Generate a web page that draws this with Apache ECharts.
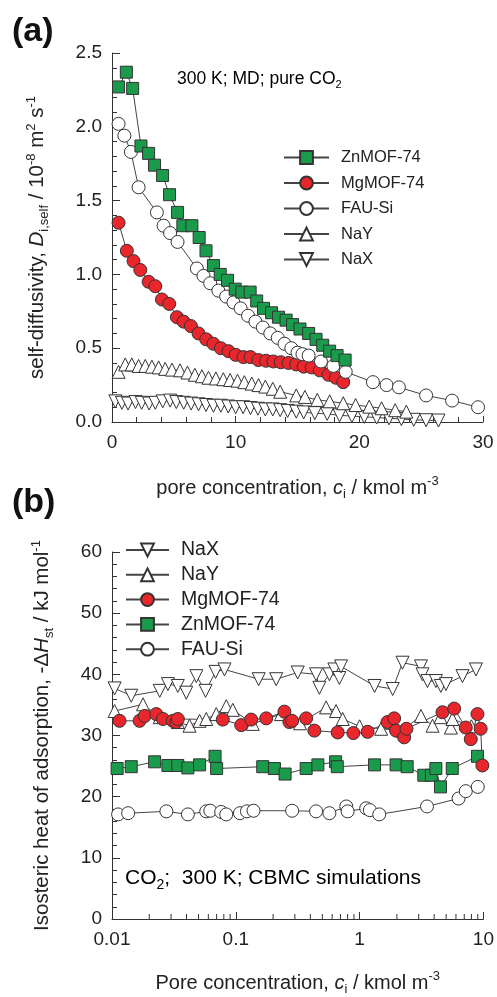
<!DOCTYPE html>
<html><head><meta charset="utf-8">
<script src="https://cdn.jsdelivr.net/npm/echarts@6/dist/echarts.min.js"></script>
<style>html,body{margin:0;padding:0;background:#fff}#c{width:497px;height:997px}</style>
</head><body><div id="c"></div>
<script>
// ---------- Panel (a): self-diffusivity vs pore concentration ----------
const aZnMOF = [[0.53,2.27],[1.16,2.37],[1.67,2.26],[2.34,1.87],[2.96,1.82],[3.44,1.74],[4.09,1.67],[4.65,1.54],[5.3,1.42],[5.73,1.33],[6.46,1.33],[7.05,1.25],[7.6,1.16],[8.2,1.06],[8.75,1.0],[9.34,0.96],[9.96,0.90],[10.5,0.88],[11.17,0.88],[11.7,0.82],[12.25,0.77],[12.9,0.74],[13.46,0.71],[14.08,0.69],[14.6,0.66],[15.2,0.63],[15.9,0.60],[16.5,0.56],[17.04,0.52],[17.6,0.48],[18.2,0.45],[18.85,0.42]];
const aMgMOF = [[0.53,1.35],[1.2,1.16],[1.74,1.09],[2.29,1.03],[2.96,0.95],[3.5,0.92],[4.04,0.83],[4.63,0.80],[5.25,0.71],[5.79,0.68],[6.38,0.65],[7.0,0.60],[7.62,0.56],[8.2,0.53],[8.8,0.50],[9.42,0.48],[10.0,0.455],[10.63,0.44],[11.2,0.44],[11.84,0.42],[12.46,0.415],[13.05,0.41],[13.65,0.405],[14.27,0.40],[14.9,0.39],[15.5,0.375],[16.15,0.37],[16.8,0.35],[17.5,0.32],[18.1,0.30],[18.7,0.27]];
const aFAUSi = [[0.53,2.02],[1.0,1.94],[1.53,1.83],[2.15,1.59],[3.63,1.42],[4.17,1.33],[4.7,1.28],[5.3,1.22],[6.86,1.04],[7.4,0.99],[7.94,0.94],[8.6,0.89],[9.23,0.85],[9.82,0.81],[10.4,0.77],[11.0,0.72],[11.6,0.68],[12.2,0.64],[12.8,0.60],[13.4,0.57],[13.95,0.53],[14.5,0.50],[15.0,0.47],[15.4,0.46],[15.9,0.45],[16.9,0.41],[17.9,0.38],[18.9,0.34],[21.1,0.27],[22.2,0.25],[23.2,0.235],[25.4,0.18],[27.5,0.145],[29.6,0.10]];
const aNaY = [[0.53,0.34],[1.07,0.39],[1.6,0.39],[2.15,0.38],[2.69,0.38],[3.23,0.375],[3.77,0.37],[4.3,0.36],[4.85,0.355],[5.5,0.35],[6.1,0.335],[6.7,0.32],[7.27,0.31],[7.8,0.30],[8.4,0.295],[9.0,0.29],[9.55,0.285],[10.15,0.28],[10.7,0.27],[11.3,0.26],[11.85,0.25],[12.4,0.24],[13.0,0.225],[13.6,0.205],[14.9,0.18],[15.6,0.17],[16.6,0.15],[17.6,0.14],[18.7,0.127],[19.7,0.115],[20.8,0.104],[21.8,0.093],[22.9,0.08],[23.8,0.07]];
const aNaX = [[0.27,0.14],[0.8,0.13],[1.3,0.125],[1.9,0.135],[2.4,0.13],[3.0,0.125],[3.5,0.13],[4.1,0.14],[4.7,0.145],[5.2,0.135],[5.8,0.13],[6.4,0.125],[7.0,0.12],[7.6,0.115],[8.2,0.11],[8.8,0.11],[9.4,0.105],[10.0,0.10],[10.6,0.10],[11.2,0.095],[11.8,0.09],[12.4,0.085],[13.0,0.085],[13.6,0.08],[14.2,0.075],[14.9,0.07],[15.5,0.065],[16.4,0.06],[17.4,0.055],[18.4,0.045],[19.4,0.04],[20.4,0.035],[21.4,0.03],[22.4,0.025],[23.4,0.02],[24.4,0.015],[25.4,0.012],[26.4,0.01]];
const aXLabels = ['0','10','20','30'];
const aYLabels = ['0.0','0.5','1.0','1.5','2.0','2.5'];

// ---------- Panel (b): isosteric heat vs pore concentration ----------
const bNaX = [[0.0105,37.7],[0.0143,36.5],[0.0243,37.3],[0.0283,38.4],[0.034,38.1],[0.0398,37.0],[0.048,39.7],[0.057,37.3],[0.0686,40.4],[0.081,40.8],[0.153,39.2],[0.212,39.2],[0.316,40.3],[0.445,40.0],[0.473,37.8],[0.57,40.0],[0.625,40.8],[0.686,39.4],[0.708,41.3],[1.32,38.1],[1.85,37.6],[2.22,41.9],[3.13,41.3],[3.22,40.0],[3.53,38.9],[4.13,38.9],[4.53,38.1],[4.98,38.4],[6.77,39.7],[8.7,40.8]];
const bNaY = [[0.0105,34.0],[0.0178,35.1],[0.0243,33.0],[0.034,32.2],[0.0423,31.6],[0.051,32.4],[0.0577,32.7],[0.0695,33.5],[0.0837,34.8],[0.0946,34.2],[0.137,31.9],[0.232,33.5],[0.33,32.0],[0.536,34.6],[0.645,34.0],[0.73,32.7],[1.0,31.5],[1.49,31.1],[2.2,30.8],[3.13,33.2],[3.88,31.6],[4.5,33.0],[5.46,31.3],[5.62,32.7],[8.0,31.5]];
const bMgMOF = [[0.0115,32.4],[0.0167,32.4],[0.0184,33.2],[0.0228,33.5],[0.0258,32.7],[0.031,32.4],[0.033,32.2],[0.034,32.7],[0.0785,32.6],[0.1106,31.7],[0.133,32.6],[0.176,32.8],[0.247,33.9],[0.271,32.2],[0.285,32.4],[0.37,32.8],[0.431,30.8],[0.665,30.5],[0.89,30.4],[1.16,30.6],[1.68,32.2],[1.9,32.8],[1.97,30.8],[2.29,29.7],[2.39,31.1],[4.67,33.8],[5.8,34.4],[7.2,31.3],[7.9,29.4],[8.95,33.5],[9.5,31.1],[9.8,25.1]];
const bZnMOF = [[0.011,24.6],[0.0143,24.9],[0.0221,25.7],[0.0283,25.1],[0.034,25.1],[0.041,24.7],[0.051,25.2],[0.068,26.6],[0.07,24.6],[0.165,24.9],[0.205,24.6],[0.25,23.7],[0.37,24.6],[0.46,25.2],[0.64,25.7],[0.66,24.9],[1.32,25.2],[1.97,25.2],[2.42,24.9],[3.3,23.5],[3.8,23.5],[4.13,24.6],[4.5,21.6],[5.6,24.6],[8.95,26.6]];
const bFAUSi = [[0.0112,17.1],[0.0135,17.3],[0.0275,17.6],[0.041,17.1],[0.0577,17.6],[0.0622,17.7],[0.0762,17.5],[0.0837,17.1],[0.108,17.3],[0.123,17.6],[0.139,17.7],[0.285,17.7],[0.445,17.6],[0.57,17.3],[0.78,18.4],[0.8,17.6],[1.13,18.1],[1.21,17.8],[1.44,17.1],[3.5,18.4],[6.3,19.7],[7.2,20.9],[9.0,21.6]];
const bXLabels = ['0.01','0.1','1','10'];
const bYLabels = ['0','10','20','30','40','50','60'];
const bMinorTicks = [0.02,0.03,0.04,0.05,0.06,0.07,0.08,0.09,0.2,0.3,0.4,0.5,0.6,0.7,0.8,0.9,2,3,4,5,6,7,8,9];

const FONT = 'Liberation Sans, Arial, Helvetica, sans-serif';
const TXT = '#222';
const AX = '#333';
const GREEN = '#1a9b4b';
const RED = '#e8262b';

const richBase = (fs) => ({
  n: {fontSize: fs, fontFamily: FONT, color: TXT, lineHeight: fs + 6, verticalAlign: 'middle'},
  it: {fontSize: fs, fontFamily: FONT, color: TXT, fontStyle: 'italic', lineHeight: fs + 6, verticalAlign: 'middle'},
  sub: {fontSize: Math.round(fs * 0.65), fontFamily: FONT, color: TXT, lineHeight: Math.round(fs * 0.65), verticalAlign: 'bottom'},
  sup: {fontSize: Math.round(fs * 0.65), fontFamily: FONT, color: TXT, lineHeight: Math.round(fs * 0.65), verticalAlign: 'top'}
});

const TICKFS = 19;
function valAxisCommon(fs) {
  return {
    axisLine: {show: true, lineStyle: {color: AX, width: 1}},
    splitLine: {show: false},
    nameTextStyle: {rich: richBase(fs)}
  };
}

const mk = (name, data, xi, sym, fill, size, rot) => ({
  name, type: 'line', data, xAxisIndex: xi, yAxisIndex: xi,
  symbol: sym, symbolSize: size, symbolRotate: rot || 0, showAllSymbol: true,
  lineStyle: {color: '#444', width: 1},
  itemStyle: {color: fill, borderColor: '#333', borderWidth: 1},
  emphasis: {disabled: true}, animation: false, z: 3
});

const chart = echarts.init(document.getElementById('c'), null, {renderer: 'canvas'});
chart.setOption({
  animation: false,
  backgroundColor: '#fff',
  grid: [
    {left: 112, top: 53, width: 371, height: 369},
    {left: 112, top: 552, width: 373, height: 370}
  ],
  xAxis: [
    Object.assign(valAxisCommon(20), {
      type: 'value', gridIndex: 0, min: 0, max: 30, interval: 10,
      axisTick: {show: true, inside: true, length: 6, lineStyle: {color: AX}},
      minorTick: {show: true, splitNumber: 5, length: 5, lineStyle: {color: AX}},
      axisLabel: {fontSize: TICKFS, fontFamily: FONT, color: TXT, margin: 11, formatter: (v, i) => aXLabels[i]},
      name: '{n|pore concentration, }{it|c}{sub|i}{n| / kmol m}{sup|-3}',
      nameLocation: 'middle', nameGap: 53
    }),
    Object.assign(valAxisCommon(20), {
      type: 'log', logBase: 10, gridIndex: 1, min: 0.01, max: 10,
      axisTick: {show: true, inside: true, length: 7, lineStyle: {color: AX}},
      axisLabel: {fontSize: TICKFS, fontFamily: FONT, color: TXT, margin: 11, formatter: (v, i) => bXLabels[i]},
      name: '{n|Pore concentration, }{it|c}{sub|i}{n| / kmol m}{sup|-3}',
      nameLocation: 'middle', nameGap: 51
    })
  ],
  yAxis: [
    Object.assign(valAxisCommon(20.5), {
      type: 'value', gridIndex: 0, min: 0, max: 2.5, interval: 0.5,
      axisTick: {show: true, inside: true, length: 8, lineStyle: {color: AX}},
      minorTick: {show: true, splitNumber: 5, length: 5, lineStyle: {color: AX}},
      axisLabel: {fontSize: TICKFS, fontFamily: FONT, color: TXT, margin: 10, formatter: (v, i) => aYLabels[i]},
      name: '{n|self-diffusivity, }{it|D}{sub|i,self}{n| / 10}{sup|-8}{n| m}{sup|2}{n| s}{sup|-1}',
      nameLocation: 'middle', nameGap: 61, nameRotate: 90
    }),
    Object.assign(valAxisCommon(20.5), {
      type: 'value', gridIndex: 1, min: 0, max: 60, interval: 10,
      axisTick: {show: true, inside: true, length: 8, lineStyle: {color: AX}},
      minorTick: {show: true, splitNumber: 5, length: 5, lineStyle: {color: AX}},
      axisLabel: {fontSize: TICKFS, fontFamily: FONT, color: TXT, margin: 10, formatter: (v, i) => bYLabels[i]},
      name: '{n|Isosteric heat of adsorption, -Δ}{it|H}{sub|st}{n| / kJ mol}{sup|-1}',
      nameLocation: 'middle', nameGap: 56, nameRotate: 90
    })
  ],
  legend: [
    {
      data: ['ZnMOF-74', 'MgMOF-74', 'FAU-Si', 'NaY', 'NaX'],
      orient: 'vertical', left: 278, top: 144, itemWidth: 45, itemHeight: 16, itemGap: 8.5,
      textStyle: {fontSize: 16.5, fontFamily: FONT, color: TXT, padding: [0, 0, 0, 7]},
      selectedMode: false
    },
    {
      data: ['NaX', 'NaY', 'MgMOF-74', 'ZnMOF-74', 'FAU-Si'],
      orient: 'vertical', left: 120, top: 535, itemWidth: 43, itemHeight: 16, itemGap: 4.8,
      textStyle: {fontSize: 19.5, fontFamily: FONT, color: TXT, padding: [0, 0, 0, 7]},
      selectedMode: false
    }
  ],
  graphic: [
    {type: 'text', left: 12, top: 15, style: {text: '(a)', font: 'bold 34px ' + FONT, fill: '#111'}},
    {type: 'text', left: 12, top: 486, style: {text: '(b)', font: 'bold 34px ' + FONT, fill: '#111'}},
    {type: 'text', left: 177, top: 70, style: {text: '{n|300 K; MD; pure CO}{sub|2}', rich: richBase(17.5)}},
    {type: 'text', left: 125, top: 868, style: {text: '{n|CO}{sub|2}{n|;  300 K; CBMC simulations}', rich: richBase(21)}}
  ],
  series: [
    mk('NaX', aNaX, 0, 'triangle', '#fff', 13, 180),
    mk('NaY', aNaY, 0, 'triangle', '#fff', 13),
    mk('MgMOF-74', aMgMOF, 0, 'circle', RED, 13),
    mk('FAU-Si', aFAUSi, 0, 'circle', '#fff', 13),
    mk('ZnMOF-74', aZnMOF, 0, 'rect', GREEN, 12),
    mk('FAU-Si', bFAUSi, 1, 'circle', '#fff', 13),
    mk('ZnMOF-74', bZnMOF, 1, 'rect', GREEN, 12),
    mk('NaY', bNaY, 1, 'triangle', '#fff', 13),
    mk('MgMOF-74', bMgMOF, 1, 'circle', RED, 13),
    mk('NaX', bNaX, 1, 'triangle', '#fff', 13, 180),
    {
      type: 'custom', xAxisIndex: 1, yAxisIndex: 1, silent: true, clip: false, z: 10,
      data: bMinorTicks.map(v => [v, 0]),
      renderItem: (params, api) => {
        const p = api.coord([api.value(0), 0]);
        return {type: 'line', shape: {x1: p[0], y1: p[1], x2: p[0], y2: p[1] - 5}, style: {stroke: AX, lineWidth: 1}};
      }
    }
  ]
});
</script></body></html>
